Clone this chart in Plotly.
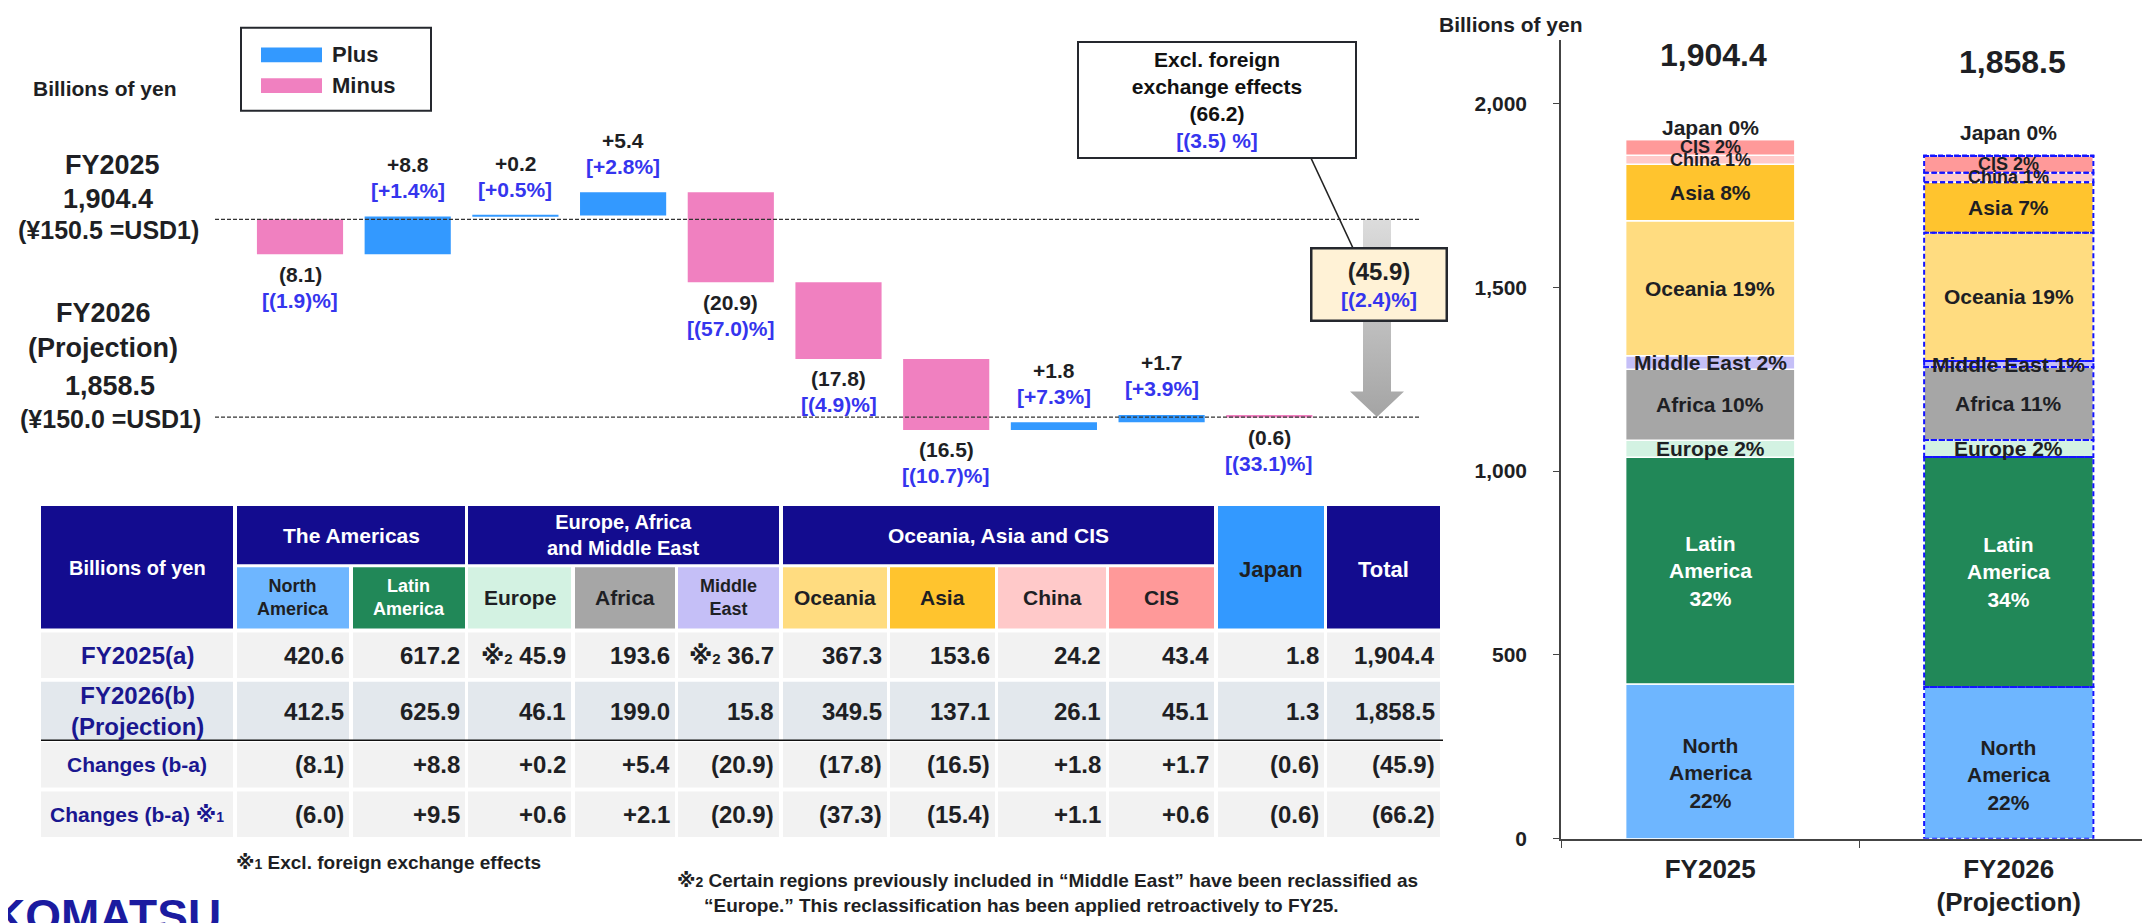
import plotly.graph_objects as go

# ---------------- data ----------------
regions = ["North America", "Latin America", "Europe", "Africa", "Middle East",
           "Oceania", "Asia", "China", "CIS", "Japan"]
fy2025 = [420.6, 617.2, 45.9, 193.6, 36.7, 367.3, 153.6, 24.2, 43.4, 1.8]
fy2026 = [412.5, 625.9, 46.1, 199.0, 15.8, 349.5, 137.1, 26.1, 45.1, 1.3]
totals = [1904.4, 1858.5]
changes = [-8.1, 8.8, 0.2, 5.4, -20.9, -17.8, -16.5, 1.8, 1.7, -0.6]
change_total = -45.9
changes_fx = [-6.0, 9.5, 0.6, 2.1, -20.9, -37.3, -15.4, 1.1, 0.6, -0.6]
change_fx_total = -66.2
change_pct = [-1.9, 1.4, 0.5, 2.8, -57.0, -4.9, -10.7, 7.3, 3.9, -33.1]
total_pct = -2.4
fx_total_pct = -3.5
fy2025_marks = ["", "", "※2", "", "※2", "", "", "", "", ""]
y_ticks = [0, 500, 1000, 1500, 2000]
bar_cats = ["FY2025", "FY2026<br>(Projection)"]
seg_names = ["North<br>America", "Latin<br>America", "Europe", "Africa", "Middle East",
             "Oceania", "Asia", "China", "CIS", "Japan"]

# ---------------- styles ----------------
W, H = 2150, 923
FONT = "Liberation Sans, Arial, DejaVu Sans, Noto Sans CJK JP, sans-serif"
TXT = "#1e1f24"
BLUE_TXT = "#3535ee"
NAVY = "#130c8f"
PLUS = "#3399ff"
MINUS = "#f080c0"
seg_colors = ["#6eb6ff", "#218858", "#d3f2e2", "#a6a6a6", "#c5bff7",
              "#ffdc80", "#ffc42e", "#ffc9c9", "#ff9999", "#3399ff"]


def xp(p):
    return p / W


def yp(p):
    return 1 - p / H


annotations = []
shapes = []


def text(t, x, y, size, color=TXT, xanchor="center", yanchor="middle",
         xref="paper", yref="paper", **kw):
    if xref == "paper":
        x = xp(x)
    if yref == "paper":
        y = yp(y)
    annotations.append(dict(text=f"<b>{t}</b>", x=x, y=y, xref=xref, yref=yref,
                            xanchor=xanchor, yanchor=yanchor, showarrow=False,
                            font=dict(family=FONT, size=size, color=color), **kw))


def rect(x0, y0, x1, y1, fill, line_color="rgba(0,0,0,0)", lw=0, dash="solid",
         xref="paper", yref="paper", layer="above"):
    if xref == "paper":
        x0, x1 = xp(x0), xp(x1)
    if yref == "paper":
        y0, y1 = yp(y0), yp(y1)
    shapes.append(dict(type="rect", x0=x0, x1=x1, y0=y0, y1=y1, xref=xref, yref=yref,
                       fillcolor=fill, line=dict(color=line_color, width=lw, dash=dash),
                       layer=layer))


def fmt_change(v):
    return f"+{v:.1f}" if v >= 0 else f"({abs(v):.1f})"


def fmt_pct(p):
    return f"[+{p:.1f}%]" if p >= 0 else f"[({abs(p):.1f})%]"


fig = go.Figure()

# ================= waterfall (left) =================
WF_X0, WF_X1 = 207, 1413
BAR0, STEP = 292, 107.7
TOP_PX, BOT_PX = 214, 414
WF_YT, WF_YB = 100, 480
ppu = (BOT_PX - TOP_PX) / (totals[0] - totals[1])
wf_yrange = [totals[1] - (WF_YB - BOT_PX) / ppu, totals[0] + (TOP_PX - WF_YT) / ppu]
wf_xrange = [-(BAR0 - WF_X0) / STEP, (WF_X1 - BAR0) / STEP]

bases = []
run = totals[0]
for v in changes:
    bases.append(run)
    run += v

idx = list(range(len(changes)))
fig.add_trace(go.Bar(x=idx, y=changes, base=bases, width=0.8,
                     marker=dict(color=[PLUS if v >= 0 else MINUS for v in changes],
                                 line=dict(width=0)),
                     xaxis="x", yaxis="y", showlegend=False, hoverinfo="skip"))

for i, (v, b, p) in enumerate(zip(changes, bases, change_pct)):
    if v >= 0:
        top = b + v
        text(fmt_change(v), i, top, 21, TXT, xref="x", yref="y", yshift=52)
        text(fmt_pct(p), i, top, 21, BLUE_TXT, xref="x", yref="y", yshift=26)
    else:
        bot = b + v
        text(fmt_change(v), i, bot, 21, TXT, xref="x", yref="y", yshift=-20)
        text(fmt_pct(p), i, bot, 21, BLUE_TXT, xref="x", yref="y", yshift=-46)

# dashed reference lines at the two totals
for t in totals:
    shapes.append(dict(type="line", xref="paper", yref="y", x0=xp(WF_X0), x1=xp(WF_X1),
                       y0=t, y1=t, line=dict(color="#333333", width=1.3, dash="4px,2px"),
                       layer="above"))

# total arrow (gradient)
ai = len(changes)
sw, hw = 14 / STEP, 27 / STEP
head_base = totals[1] + 26 / ppu
ax = [ai - sw, ai + sw, ai + sw, ai + hw, ai, ai - hw, ai - sw, ai - sw]
ay = [totals[0], totals[0], head_base, head_base, totals[1], head_base, head_base, totals[0]]
fig.add_trace(go.Scatter(x=ax, y=ay, mode="lines", line=dict(width=0), fill="toself",
                         fillgradient=dict(type="vertical",
                                           colorscale=[[0, "#a4a4a4"], [1, "#dcdcdc"]]),
                         xaxis="x", yaxis="y", showlegend=False, hoverinfo="skip"))

# total change box
annotations.append(dict(
    text=f"<b><span style='font-size:24px'>{fmt_change(change_total)}</span><br>"
         f"<span style='color:{BLUE_TXT}'>{fmt_pct(total_pct)}</span></b>",
    x=xp(1370.5), y=yp(280), xref="paper", yref="paper", showarrow=False,
    xanchor="center", yanchor="middle", width=133, height=70, align="center",
    bgcolor="#fff2d6", bordercolor="#25282e", borderwidth=2.5, borderpad=0,
    font=dict(family=FONT, size=21, color=TXT)))

# callout "Excl. foreign exchange effects"
annotations.append(dict(
    text=f"<b>Excl. foreign<br>exchange effects<br>{fmt_change(change_fx_total)}<br>"
         f"<span style='color:{BLUE_TXT}'>[({abs(fx_total_pct):.1f}) %]</span></b>",
    x=xp(1208.5), y=yp(93.5), xref="paper", yref="paper", showarrow=False,
    xanchor="center", yanchor="middle", width=276, height=114, align="center",
    bgcolor="white", bordercolor="#25282e", borderwidth=2, borderpad=0,
    font=dict(family=FONT, size=21, color="#111111")))
shapes.append(dict(type="line", xref="paper", yref="paper", x0=xp(1303), y0=yp(152),
                   x1=xp(1345), y1=yp(243), line=dict(color="#222222", width=1.5)))

# legend box
rect(233, 20, 423, 104, "white", "#25282e", 2)
rect(253, 40, 314, 55, PLUS)
rect(253, 71, 314, 86, MINUS)
text("Plus", 322, 47, 22, xanchor="left")
text("Minus", 322, 78, 22, xanchor="left")

# left labels
text("Billions of yen", 97, 81, 21)
text("FY2025", 104, 159, 27)
text(f"{totals[0]:,.1f}", 100, 193, 27)
text("(¥150.5 =USD1)", 100, 225, 25)
text("FY2026", 95, 309, 27)
text("(Projection)", 95, 344, 27)
text(f"{totals[1]:,.1f}", 102, 383, 27)
text("(¥150.0 =USD1)", 102, 416, 25)

# ================= stacked bars (right) =================
R_X0 = 1553
ZERO_PX, TICK2000_PX, R_TOP = 840.7, 96.7, 32
ppu2 = (ZERO_PX - TICK2000_PX) / 2000
r_yrange = [0, (ZERO_PX - R_TOP) / ppu2]
BW = 0.567

cum25, cum26 = 0.0, 0.0
seg_base = []
for a, b in zip(fy2025, fy2026):
    seg_base.append((cum25, cum26))
    cum25 += a
    cum26 += b

for k, name in enumerate(regions):
    fig.add_trace(go.Bar(x=bar_cats, y=[fy2025[k], fy2026[k]],
                         base=[seg_base[k][0], seg_base[k][1]], width=BW,
                         marker=dict(color=seg_colors[k], line=dict(color="white", width=1.5)),
                         xaxis="x2", yaxis="y2", showlegend=False, name=name,
                         hoverinfo="skip"))

# dashed outline of FY2026 segments
for k in range(len(regions)):
    b = seg_base[k][1]
    shapes.append(dict(type="rect", xref="x2", yref="y2", x0=1 - BW / 2, x1=1 + BW / 2,
                       y0=b, y1=b + fy2026[k], fillcolor="rgba(0,0,0,0)",
                       line=dict(color="#1414ff", width=2, dash="5px,3px"), layer="above"))

# segment labels
nudges = {0: -12}
small = {7: 18, 8: 18}
for j, vals in enumerate([fy2025, fy2026]):
    tot = sum(vals)
    for k, v in enumerate(vals):
        pct = round(v / tot * 100)
        sep = "<br>" if "<br>" in seg_names[k] else " "
        lab = f"{seg_names[k]}{sep}{pct}%"
        color = "white" if k == 1 else TXT
        base = seg_base[k][j]
        if k == len(vals) - 1:
            text(lab, j, base + v, 21, color, xref="x2", yref="y2",
                 yshift=11 if j == 0 else 23)
        else:
            text(lab, j, base + v / 2, small.get(k, 21), color, xref="x2", yref="y2",
                 yshift=nudges.get(k, 0))

text(f"{totals[0]:,.1f}", 1705, 48, 32)
text(f"{totals[1]:,.1f}", 2004, 55, 32)
text("Billions of yen", 1503, 17, 21)

# ================= table =================
cols = [(33, 225), (229, 341), (345, 457), (460, 563), (567, 667), (670, 771),
        (775, 879), (882, 987), (990, 1098), (1101, 1206), (1210, 1316), (1319, 1432)]
HG = (504, 563)
HS = (566, 628)
rows = [(632, 678), (682, 741), (743, 789), (793, 839)]
row_bg = ["#f2f2f2", "#e3e8ed", "#f2f2f2", "#f2f2f2"]

# header
rect(cols[0][0], HG[0], cols[0][1], HS[1], NAVY)
text("Billions of yen", sum(cols[0]) / 2, 567, 20, "white")
groups = [("The Americas", 1, 2, 21), ("Europe, Africa<br>and Middle East", 3, 5, 20),
          ("Oceania, Asia and CIS", 6, 9, 21)]
for lab, c0, c1, fs in groups:
    rect(cols[c0][0], HG[0], cols[c1][1], HG[1], NAVY)
    text(lab, (cols[c0][0] + cols[c1][1]) / 2, (HG[0] + HG[1]) / 2, fs, "white")
sub_labels = ["North<br>America", "Latin<br>America", "Europe", "Africa", "Middle<br>East",
              "Oceania", "Asia", "China", "CIS"]
for k, lab in enumerate(sub_labels):
    c = cols[k + 1]
    rect(c[0], HS[0], c[1], HS[1], seg_colors[k])
    text(lab, sum(c) / 2, (HS[0] + HS[1]) / 2, 18 if "<br>" in lab else 21,
         "white" if k == 1 else TXT)
rect(cols[10][0], HG[0], cols[10][1], HS[1], PLUS)
text("Japan", sum(cols[10]) / 2, 568, 22, TXT)
rect(cols[11][0], HG[0], cols[11][1], HS[1], NAVY)
text("Total", sum(cols[11]) / 2, 568, 22, "white")

row_labels = ["FY2025(a)", "FY2026(b)<br>(Projection)", "Changes (b-a)",
              "Changes (b-a) ※<span style='font-size:14px'>1</span>"]
row_vals = [
    [f"{(m + ' ') if m else ''}{v:,.1f}".replace("※2", "※<span style='font-size:15px'>2</span>")
     for m, v in zip(fy2025_marks + [""], fy2025 + [totals[0]])],
    [f"{v:,.1f}" for v in fy2026 + [totals[1]]],
    [fmt_change(v) for v in changes + [change_total]],
    [fmt_change(v) for v in changes_fx + [change_fx_total]],
]
for r, (y0, y1) in enumerate(rows):
    for c, (x0, x1) in enumerate(cols):
        rect(x0, y0, x1, y1, row_bg[r])
    yc = (y0 + y1) / 2
    text(row_labels[r], sum(cols[0]) / 2, yc, 24 if r < 2 else 21, "#1a1790")
    for c, s in enumerate(row_vals[r]):
        text(s, cols[c + 1][1] - 3, yc, 24, TXT, xanchor="right")

shapes.append(dict(type="line", xref="paper", yref="paper", x0=xp(33), x1=xp(1435),
                   y0=yp(741), y1=yp(741), line=dict(color="#111111", width=1.5)))

# footnotes
text("※<span style='font-size:14px'>1</span> Excl. foreign exchange effects", 226, 865, 19,
     xanchor="left")
text("※<span style='font-size:14px'>2</span> Certain regions previously included in "
     "“Middle East” have been reclassified as", 667, 883, 19, xanchor="left")
text("“Europe.” This reclassification has been applied retroactively to FY25.", 694, 908, 19,
     xanchor="left")

# logo (cut off at the bottom edge)
annotations.append(dict(text="<b>KOMATSU</b>", x=xp(-18), y=yp(891), xref="paper",
                        yref="paper", xanchor="left", yanchor="top", showarrow=False,
                        font=dict(family=FONT, size=46, color="#1b1ba0")))

# ================= layout =================
fig.update_layout(
    width=W, height=H, margin=dict(l=0, r=0, t=0, b=0),
    paper_bgcolor="white", plot_bgcolor="white", barmode="overlay",
    font=dict(family=FONT, color=TXT),
    xaxis=dict(domain=[xp(WF_X0), xp(WF_X1)], range=wf_xrange, visible=False,
               anchor="y", fixedrange=True),
    yaxis=dict(domain=[yp(WF_YB), yp(WF_YT)], range=wf_yrange, visible=False,
               anchor="x", fixedrange=True),
    xaxis2=dict(domain=[xp(R_X0), 1.0], type="category", range=[-0.5, 1.5], anchor="y2",
                showline=True, linecolor="#444444", linewidth=1.5, ticks="outside",
                tickson="boundaries", ticklen=8, tickcolor="#444444", showgrid=False,
                tickfont=dict(family=FONT, size=26, color=TXT, weight="bold"),
                ticklabelstandoff=6),
    yaxis2=dict(domain=[yp(ZERO_PX), yp(R_TOP)], range=r_yrange, anchor="x2",
                showline=True, linecolor="#444444", linewidth=1.5, ticks="outside",
                ticklen=6, tickcolor="#444444", tickvals=y_ticks, tickformat=",",
                showgrid=False, zeroline=False, ticklabelstandoff=22,
                tickfont=dict(family=FONT, size=21, color=TXT, weight="bold")),
    annotations=annotations, shapes=shapes, showlegend=False,
)

fig.write_html("out.html")
